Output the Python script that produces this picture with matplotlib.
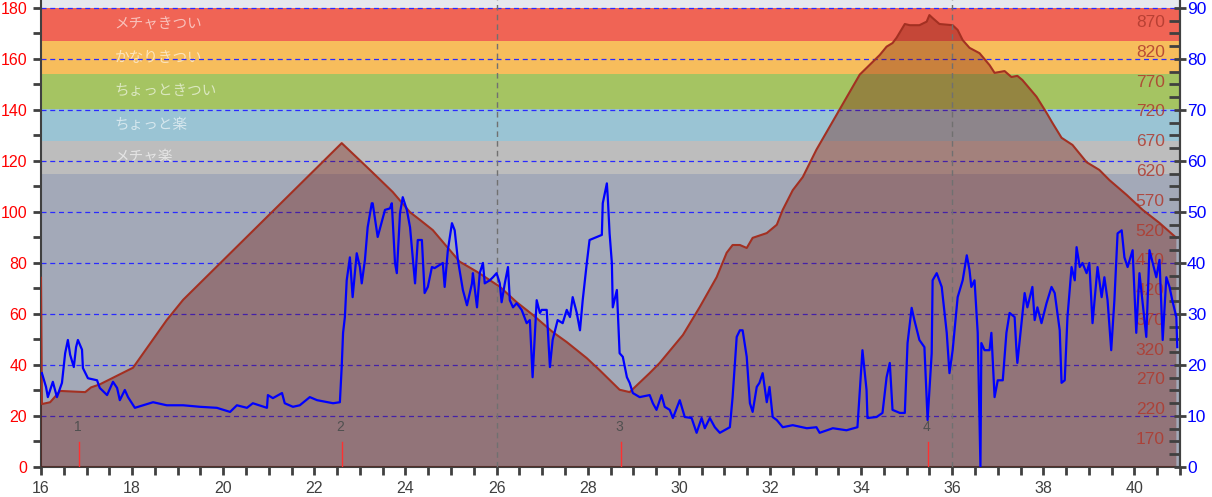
import matplotlib
matplotlib.use('Agg')
import matplotlib.pyplot as plt
from matplotlib.ticker import MultipleLocator
import matplotlib.transforms as mtransforms

plt.rcParams['font.family'] = ['Liberation Sans', 'Noto Sans CJK JP', 'DejaVu Sans']

# distance [km] / elevation [m]
dist_elev = [16.00, 16.02, 16.20, 16.42, 16.97, 17.10, 17.29, 18.02, 18.76, 19.12,
             22.60, 23.22, 23.72, 24.10, 24.32, 24.60, 24.91, 25.19, 25.57, 26.07,
             26.44, 26.79, 27.23, 27.54, 27.98, 28.26, 28.70, 28.92, 29.36, 29.58,
             30.09, 30.46, 30.83, 31.05, 31.18, 31.34, 31.49, 31.62, 31.93, 32.15,
             32.28, 32.50, 32.72, 33.02, 33.97, 34.41, 34.56, 34.69, 34.78, 34.96,
             35.07, 35.28, 35.44, 35.50, 35.57, 35.72, 36.01, 36.12, 36.23, 36.38,
             36.60, 36.82, 36.93, 37.15, 37.30, 37.43, 37.54, 37.85, 38.07, 38.20,
             38.40, 38.64, 38.95, 39.23, 39.45, 39.83, 40.18, 40.55, 40.92]
elevation = [439, 227, 230, 249, 247, 255, 260, 288, 368, 402,
             665, 620, 583, 549, 536, 519, 491, 466, 449, 424,
             398, 377, 348, 331, 304, 284, 251, 247, 279, 296,
             343, 390, 440, 481, 494, 494, 489, 506, 514, 528,
             553, 586, 608, 654, 780, 813, 827, 833, 842, 865,
             863, 863, 869, 880, 875, 865, 863, 855, 838, 825,
             816, 796, 783, 786, 776, 778, 771, 743, 716, 699,
             674, 662, 633, 620, 603, 578, 553, 531, 506]

# distance [km] / speed [km/h]
dist_speed = [16.02, 16.11, 16.15, 16.26, 16.35, 16.46, 16.53, 16.59, 16.64, 16.72,
              16.77, 16.81, 16.90, 16.92, 17.03, 17.23, 17.29, 17.45, 17.58, 17.67,
              17.73, 17.84, 17.91, 18.06, 18.24, 18.46, 18.76, 19.12, 19.49, 19.86,
              20.15, 20.30, 20.52, 20.65, 20.96, 20.98, 21.09, 21.29, 21.35, 21.53,
              21.68, 21.90, 22.06, 22.41, 22.56, 22.60, 22.63, 22.67, 22.71, 22.78,
              22.84, 22.93, 23.00, 23.04, 23.11, 23.17, 23.26, 23.28, 23.39, 23.55,
              23.66, 23.70, 23.77, 23.81, 23.88, 23.94, 24.03, 24.10, 24.21, 24.27,
              24.36, 24.42, 24.49, 24.58, 24.64, 24.82, 24.86, 24.93, 25.02, 25.08,
              25.15, 25.26, 25.35, 25.46, 25.48, 25.57, 25.63, 25.70, 25.74, 25.85,
              25.92, 26.00, 26.07, 26.11, 26.18, 26.25, 26.29, 26.36, 26.44, 26.55,
              26.66, 26.73, 26.79, 26.88, 26.95, 26.99, 27.10, 27.17, 27.23, 27.34,
              27.45, 27.54, 27.61, 27.67, 27.76, 27.83, 27.89, 27.98, 28.04, 28.31,
              28.33, 28.42, 28.44, 28.48, 28.53, 28.55, 28.64, 28.70, 28.77, 28.86,
              28.92, 28.99, 29.14, 29.36, 29.43, 29.51, 29.62, 29.69, 29.80, 29.87,
              30.02, 30.13, 30.28, 30.39, 30.50, 30.57, 30.68, 30.79, 30.90, 31.12,
              31.18, 31.27, 31.34, 31.40, 31.49, 31.56, 31.62, 31.71, 31.77, 31.84,
              31.93, 31.99, 32.06, 32.15, 32.28, 32.50, 32.81, 33.02, 33.09, 33.38,
              33.68, 33.92, 34.03, 34.12, 34.14, 34.34, 34.47, 34.56, 34.63, 34.69,
              34.85, 34.96, 35.02, 35.11, 35.17, 35.28, 35.39, 35.46, 35.55, 35.57,
              35.66, 35.77, 35.88, 35.94, 36.01, 36.12, 36.23, 36.32, 36.38, 36.42,
              36.49, 36.56, 36.62, 36.64, 36.71, 36.82, 36.86, 36.93, 37.00, 37.11,
              37.19, 37.26, 37.37, 37.41, 37.43, 37.52, 37.59, 37.65, 37.76, 37.81,
              37.87, 37.96, 38.07, 38.18, 38.25, 38.36, 38.40, 38.47, 38.53, 38.62,
              38.69, 38.73, 38.80, 38.86, 38.95, 39.01, 39.08, 39.19, 39.28, 39.34,
              39.41, 39.49, 39.56, 39.63, 39.72, 39.78, 39.85, 39.96, 40.04, 40.11,
              40.18, 40.26, 40.33, 40.40, 40.48, 40.55, 40.62, 40.70, 40.77, 40.83,
              40.92, 40.94]
speed = [18.4, 15.7, 13.7, 16.7, 13.7, 16.5, 22.3, 24.9, 22.0, 19.6,
         23.5, 24.9, 23.0, 19.4, 17.4, 17.0, 15.5, 14.1, 16.7, 15.5,
         13.1, 15.1, 13.7, 11.6, 12.1, 12.7, 12.1, 12.1, 11.8, 11.6,
         10.8, 12.1, 11.6, 12.5, 11.6, 14.1, 13.5, 14.5, 12.5, 11.8,
         12.1, 13.7, 13.1, 12.5, 12.7, 19.6, 26.3, 29.4, 36.6, 41.1,
         33.3, 41.9, 39.2, 36.0, 40.6, 47.0, 51.7, 51.7, 45.1, 50.4,
         50.7, 51.7, 40.0, 38.0, 49.8, 52.9, 50.4, 47.0, 36.0, 44.5,
         44.5, 34.1, 35.3, 39.2, 39.0, 40.0, 35.3, 42.5, 47.8, 46.4,
         40.6, 34.7, 31.7, 36.0, 38.0, 31.3, 38.0, 40.0, 36.0, 36.6,
         37.2, 38.0, 36.0, 32.3, 36.0, 39.2, 32.7, 31.3, 32.1, 30.8,
         28.2, 28.8, 17.6, 32.7, 30.2, 30.8, 30.8, 19.6, 24.9, 28.8,
         28.2, 30.8, 29.4, 33.3, 30.2, 26.8, 32.7, 40.0, 44.5, 45.5,
         51.7, 55.6, 52.9, 45.8, 40.0, 31.3, 34.7, 22.3, 21.6, 17.6,
         16.5, 14.5, 13.7, 14.1, 12.5, 11.2, 14.1, 11.8, 11.2, 9.6,
         13.1, 9.8, 9.6, 6.7, 9.6, 7.6, 9.6, 7.8, 6.7, 7.8,
         13.7, 25.5, 26.8, 26.8, 21.6, 12.5, 10.8, 15.7, 16.5, 18.4,
         12.7, 15.7, 9.8, 9.2, 7.8, 8.2, 7.6, 7.8, 6.7, 7.6,
         7.2, 7.8, 22.9, 15.1, 9.6, 9.8, 10.6, 17.6, 20.4, 11.2,
         10.6, 10.6, 24.3, 31.2, 28.8, 24.9, 23.5, 9.2, 22.3, 36.6,
         38.0, 35.3, 26.3, 18.4, 22.9, 33.3, 36.6, 41.5, 38.6, 35.3,
         36.6, 26.3, 0.0, 24.3, 22.9, 22.9, 26.3, 13.7, 17.0, 17.0,
         26.3, 30.2, 29.4, 22.9, 20.4, 28.2, 34.1, 31.3, 35.3, 28.8,
         31.3, 28.2, 32.1, 35.3, 34.1, 26.8, 16.5, 17.0, 29.4, 39.2,
         36.6, 43.1, 39.2, 40.0, 38.0, 40.0, 28.2, 39.2, 33.3, 37.2,
         32.7, 22.9, 32.7, 45.8, 46.4, 41.1, 39.2, 42.5, 26.3, 38.0,
         32.1, 25.5, 42.5, 40.0, 37.2, 40.6, 24.9, 37.2, 35.3, 32.7,
         29.4, 23.5]

# heart rate zones (left axis)
zone_names = ['メチャ楽', 'ちょっと楽', 'ちょっときつい', 'かなりきつい', 'メチャきつい']
zone_bounds = [115, 128, 140.5, 154, 167, 180]
zone_colors = ['#bdbdbd', '#9ac4d4', '#a5c462', '#f7bd5c', '#f06455']

lap_dist = [16.84, 22.60, 28.73, 35.46]
lap_names = ['1', '2', '3', '4']

fig = plt.figure(figsize=(12.12, 4.97), dpi=100)
ax = fig.add_axes([41 / 1212, 30 / 497, 1139 / 1212, 467 / 497])
ax.set_facecolor('#e6e9ee')
ax.set_xlim(16, 41)
ax.set_ylim(0, 183.1)

ax.axhspan(0, zone_bounds[0], color='#a3a9b8', lw=0, zorder=0)
for i, name in enumerate(zone_names):
    lo, hi = zone_bounds[i], zone_bounds[i + 1]
    ax.axhspan(lo, hi, color=zone_colors[i], lw=0, zorder=0)
    ax.text(17.62, (lo + hi) / 2, name, color='white', alpha=0.6, fontsize=10.5,
            va='center', ha='left', family=['Noto Sans CJK JP', 'DejaVu Sans'], zorder=1)

for yv in range(20, 181, 20):
    ax.axhline(yv, color='#2a2aff', lw=0.9, ls=(0, (4, 3)), zorder=1)

ax.yaxis.set_major_locator(MultipleLocator(20))
ax.yaxis.set_minor_locator(MultipleLocator(10))
ax.xaxis.set_major_locator(MultipleLocator(2))
ax.xaxis.set_minor_locator(MultipleLocator(0.5))
ax.tick_params(axis='y', which='both', colors='#404040', labelcolor='red',
               labelsize=11.5, width=2, length=6, pad=4)
ax.tick_params(axis='x', which='both', colors='#404040', labelcolor='#404040',
               labelsize=11.5, width=2, length=6, pad=4)
for s in ['left', 'bottom', 'right']:
    ax.spines[s].set_color('#404040')
    ax.spines[s].set_linewidth(1.5)
ax.spines['top'].set_visible(False)

# elevation
ax_el = ax.twinx()
ax_el.set_ylim(121.3, 905.3)
ax_el.fill_between(dist_elev, elevation, 0, color='#751204', alpha=0.35, lw=0)
ax_el.plot(dist_elev, elevation, color='#a33022', lw=1.5)
for xv in [26, 36]:
    ax_el.axvline(xv, color='#707070', lw=1, ls=(0, (4, 3)))
ax_el.set_yticks(range(170, 871, 50))
ax_el.tick_params(axis='y', direction='in', length=0, pad=-11,
                  labelcolor='#b03a2e', labelsize=12.5)
for lab in ax_el.get_yticklabels():
    lab.set_horizontalalignment('right')
    lab.set_alpha(0.85)
for s in ax_el.spines.values():
    s.set_visible(False)

# speed
ax_sp = ax.twinx()
ax_sp.set_ylim(0, 91.55)
ax_sp.plot(dist_speed, speed, color='#0000ff', lw=1.6)
ax_sp.yaxis.set_major_locator(MultipleLocator(10))
ax_sp.yaxis.set_minor_locator(MultipleLocator(2.5))
ax_sp.tick_params(axis='y', which='major', colors='#404040', labelcolor='#0000ff',
                  labelsize=12.5, width=2, length=8, direction='inout', pad=1)
ax_sp.tick_params(axis='y', which='minor', colors='#404040', width=2, length=8,
                  direction='in')
for s in ['left', 'bottom', 'top']:
    ax_sp.spines[s].set_visible(False)
ax_sp.spines['right'].set_color('#404040')
ax_sp.spines['right'].set_linewidth(1.5)

# laps
trans = mtransforms.blended_transform_factory(ax_sp.transData, ax_sp.transAxes)
for xv, name in zip(lap_dist, lap_names):
    ax_sp.axvline(xv, ymin=0, ymax=0.054, color='#ff3030', lw=1)
    ax_sp.text(xv - 0.03, 0.085, name, transform=trans, color='#505050',
               fontsize=10, ha='center', va='center')

fig.savefig('out.png', dpi=100)
